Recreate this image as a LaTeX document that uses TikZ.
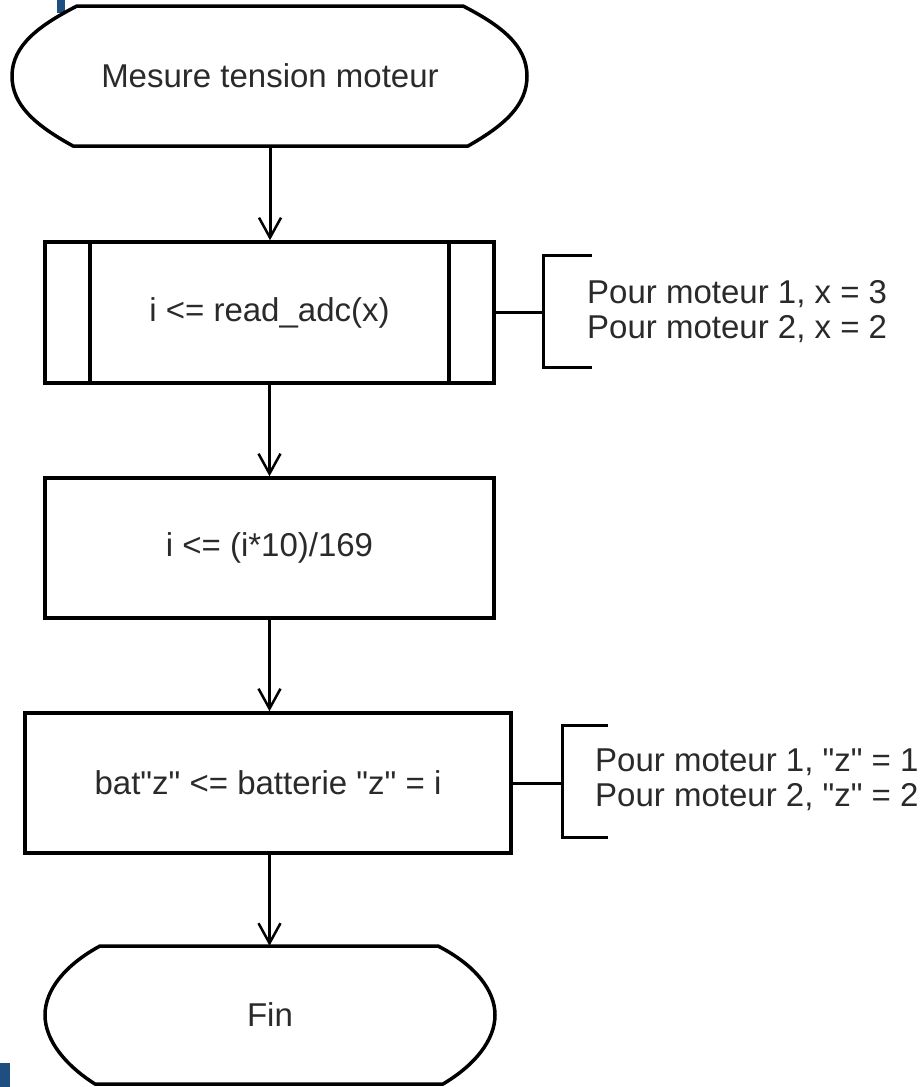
\documentclass[tikz,border=0pt]{standalone}
\usepackage{fontspec}
\setmainfont{Liberation Sans}[Ligatures=TeXOff]
\usetikzlibrary{arrows.meta}
\definecolor{markblue}{HTML}{1F4E80}
\definecolor{txt}{HTML}{2A2A2A}
\tikzset{
  outline/.style={line width=3.5pt, line join=round, black},
  procbox/.style={draw, line width=3.5pt, rectangle, inner sep=0pt, text=txt,
                  font=\fontsize{33}{36}\selectfont},
  termtext/.style={inner sep=0pt, text=txt, font=\fontsize{33}{36}\selectfont},
  note/.style={anchor=west, inner sep=0pt, align=left, text=txt,
               font=\fontsize{33}{35}\selectfont},
  flow/.style={line width=3pt, -{Straight Barb[length=20pt,width=22pt,line width=2.5pt]}},
  link/.style={line width=3pt},
}
\begin{document}
\begin{tikzpicture}[x=1pt,y=-1pt]
\useasboundingbox (0,0) rectangle (923,1087);
% blue marks
\fill[markblue] (57,0) rectangle (65,13);
\fill[markblue] (0,1063) rectangle (10,1087);

% start terminator
\draw[outline] (77,6) -- (463,6)
  .. controls (500,25) and (527,45) .. (527,76)
  .. controls (527,105) and (505,125) .. (468,146)
  -- (73,146)
  .. controls (35,125) and (12,105) .. (12,76)
  .. controls (12,45) and (40,25) .. cycle;
\node[termtext, minimum width=515pt, minimum height=140pt] (start) at (270,76) {Mesure tension moteur};

% box 1 (predefined process)
\node[procbox, minimum width=449pt, minimum height=141pt] (b1) at (269.5,312.5) {i <= read\_adc(x)};
\draw[line width=3.5pt] (90,242) -- (90,383);
\draw[line width=3.5pt] (449,242) -- (449,383);

% box 2
\node[procbox, minimum width=449pt, minimum height=140pt] (b2) at (269.5,548) {i <= (i*10)/169};

% box 3
\node[procbox, minimum width=486pt, minimum height=140pt] (b3) at (268,783) {bat"z" <= batterie "z" = i};

% end terminator
\draw[outline] (100,946) -- (438,946)
  .. controls (475,965) and (495,990) .. (495,1015)
  .. controls (495,1040) and (475,1065) .. (443,1084)
  -- (95,1084)
  .. controls (65,1065) and (45,1040) .. (45,1015)
  .. controls (45,990) and (65,965) .. cycle;
\node[termtext, minimum width=450pt, minimum height=138pt] (fin) at (270,1015) {Fin};

% flow arrows
\draw[flow] (start.south) -- (start.south |- b1.north);
\draw[flow] (b1.south) -- (b1.south |- b2.north);
\draw[flow] (b2.south) -- (b2.south |- b3.north);
\draw[flow] (b2.south |- b3.south) -- (b2.south |- fin.north);

% annotation 1
\coordinate (k1) at (543,312.5);
\draw[link] (b1.east) -- (k1);
\draw[link] (592,255) -- (543,255) -- (543,367) -- (592,367);
\node[note] (n1) at (587,312) {Pour moteur 1, x = 3\\Pour moteur 2, x = 2};

% annotation 2
\coordinate (k2) at (562,783);
\draw[link] (b3.east) -- (k2);
\draw[link] (608,725) -- (562,725) -- (562,837) -- (608,837);
\node[note] (n2) at (595,780) {Pour moteur 1, "z" = 1\\Pour moteur 2, "z" = 2};
\end{tikzpicture}
\end{document}
